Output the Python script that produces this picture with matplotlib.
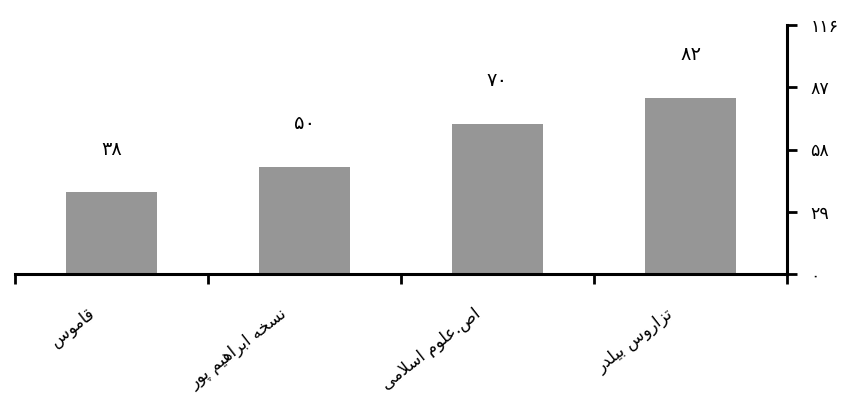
import matplotlib
matplotlib.use("Agg")
import matplotlib.pyplot as plt

# Data
categories = ["قاموس", "نسخه ابراهیم پور", "اص.علوم اسلامی", "تزاروس بیلدر"]
values = [38, 50, 70, 82]
y_ticks = [0, 29, 58, 87, 116]

# Minimal Arabic/Persian shaping: (isolated, final, initial, medial)
FORMS = {
    "ا": ("\uFE8D", "\uFE8E", None, None),
    "ب": ("\uFE8F", "\uFE90", "\uFE91", "\uFE92"),
    "پ": ("\uFB56", "\uFB57", "\uFB58", "\uFB59"),
    "ت": ("\uFE95", "\uFE96", "\uFE97", "\uFE98"),
    "خ": ("\uFEA5", "\uFEA6", "\uFEA7", "\uFEA8"),
    "د": ("\uFEA9", "\uFEAA", None, None),
    "ر": ("\uFEAD", "\uFEAE", None, None),
    "ز": ("\uFEAF", "\uFEB0", None, None),
    "س": ("\uFEB1", "\uFEB2", "\uFEB3", "\uFEB4"),
    "ص": ("\uFEB9", "\uFEBA", "\uFEBB", "\uFEBC"),
    "ع": ("\uFEC9", "\uFECA", "\uFECB", "\uFECC"),
    "ق": ("\uFED5", "\uFED6", "\uFED7", "\uFED8"),
    "ل": ("\uFEDD", "\uFEDE", "\uFEDF", "\uFEE0"),
    "م": ("\uFEE1", "\uFEE2", "\uFEE3", "\uFEE4"),
    "ن": ("\uFEE5", "\uFEE6", "\uFEE7", "\uFEE8"),
    "ه": ("\uFEE9", "\uFEEA", "\uFEEB", "\uFEEC"),
    "و": ("\uFEED", "\uFEEE", None, None),
    "ی": ("\uFBFC", "\uFBFD", "\uFBFE", "\uFBFF"),
}


def joins_forward(ch):
    return ch in FORMS and FORMS[ch][2] is not None


def shape(text):
    out = []
    i = 0
    n = len(text)
    while i < n:
        ch = text[i]
        if ch not in FORMS:
            out.append(ch)
            i += 1
            continue
        prev = text[i - 1] if i > 0 else ""
        linked_prev = joins_forward(prev)
        if ch == "ل" and i + 1 < n and text[i + 1] == "ا":
            out.append("\uFEFC" if linked_prev else "\uFEFB")
            i += 2
            continue
        nxt = text[i + 1] if i + 1 < n else ""
        linked_next = joins_forward(ch) and nxt in FORMS
        iso, fin, ini, med = FORMS[ch]
        if linked_prev and linked_next:
            out.append(med)
        elif linked_prev:
            out.append(fin)
        elif linked_next:
            out.append(ini)
        else:
            out.append(iso)
        i += 1
    return "".join(reversed(out))


FA_DIGITS = str.maketrans("0123456789", "۰۱۲۳۴۵۶۷۸۹")


def fa(num):
    return str(int(num)).translate(FA_DIGITS)


plt.rcParams["font.family"] = ["DejaVu Sans"]

fig = plt.figure(figsize=(8.46, 3.96), dpi=100)
ax = fig.add_axes([15 / 846, 122 / 396, 772 / 846, 249 / 396])

x = list(range(len(categories)))
ax.bar(x, values, width=0.47, color="#969696", zorder=2)

ax.set_xlim(-0.5, len(categories) - 0.5)
ax.set_ylim(0, 116)

for side in ("left", "top"):
    ax.spines[side].set_visible(False)
for side in ("right", "bottom"):
    ax.spines[side].set_linewidth(2.2)
    ax.spines[side].set_color("black")

ax.yaxis.tick_right()
ax.set_yticks(y_ticks)
ax.set_yticklabels([fa(v) for v in y_ticks])
ax.tick_params(axis="y", direction="out", length=7, width=2, pad=10,
               labelsize=12.5, colors="black")

ax.set_xticks([i - 0.5 for i in range(len(categories) + 1)])
ax.set_xticklabels([])
ax.tick_params(axis="x", direction="out", length=7, width=2)

for xi, v in zip(x, values):
    ax.annotate(fa(v), (xi, v), xytext=(0, 31), textcoords="offset points",
                ha="center", va="center", fontsize=14)

for xi, name in zip(x, categories):
    ax.annotate(shape(name), (xi, 0), xytext=(-10, -22),
                textcoords="offset points", ha="right", va="top",
                rotation=38, fontsize=12, annotation_clip=False)

fig.savefig("out.png", dpi=100)
